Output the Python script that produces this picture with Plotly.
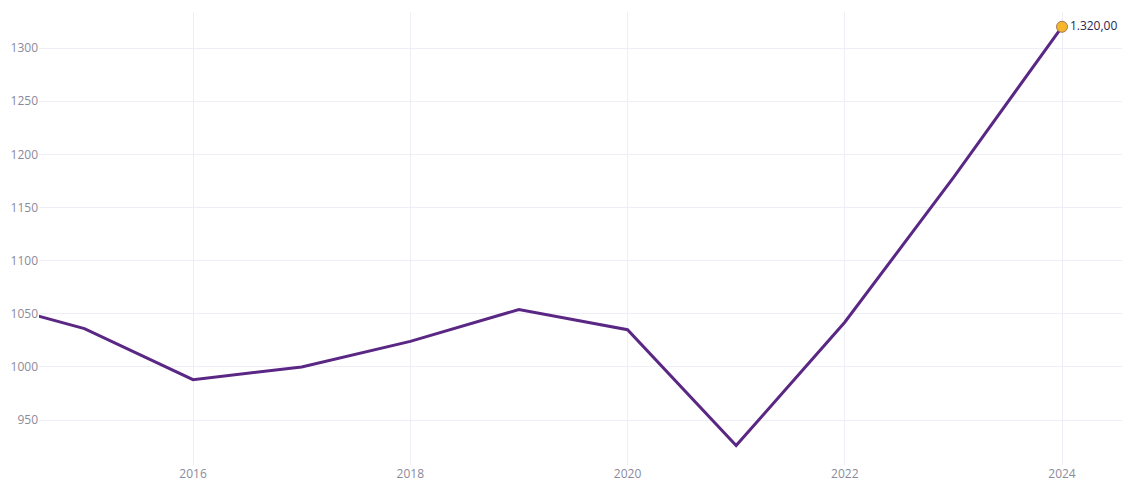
import plotly.graph_objects as go

years = [2014, 2015, 2016, 2017, 2018, 2019, 2020, 2021, 2022, 2023, 2024]
values = [1064, 1036, 988, 1000, 1024, 1054, 1035, 926, 1042, 1178, 1320]
x_ticks = [2016, 2018, 2020, 2022, 2024]
y_ticks = [950, 1000, 1050, 1100, 1150, 1200, 1250, 1300]

line_color = "#5a2784"
grid_color = "#efeef7"
tick_color = "#8b8a9c"

fig = go.Figure()
fig.add_trace(go.Scatter(
    x=years, y=values, mode="lines",
    line=dict(color=line_color, width=3),
    hoverinfo="skip", showlegend=False,
))
fig.add_trace(go.Scatter(
    x=years[-1:], y=values[-1:], mode="markers+text",
    marker=dict(color="#f7b52c", size=11, line=dict(color="#9c7a5a", width=1)),
    texttemplate="%{y:,.2f}", textposition="middle right",
    textfont=dict(family="Open Sans, sans-serif", size=12, color="#2a2750"),
    showlegend=False, cliponaxis=False,
))

fig.update_layout(
    width=1122, height=475,
    margin=dict(l=31, r=0, t=4, b=18),
    paper_bgcolor="white", plot_bgcolor="white",
    separators=",.",
    font=dict(family="Open Sans, sans-serif", size=12, color=tick_color),
    xaxis=dict(
        range=[2014.582, 2024.626], tickvals=x_ticks, ticktext=[str(t) for t in x_ticks],
        showgrid=True, gridcolor=grid_color, gridwidth=1, zeroline=False,
        showline=False, ticks="", tickfont=dict(size=12, color=tick_color),
    ),
    yaxis=dict(
        range=[907.7, 1333.9], tickvals=y_ticks, ticktext=[str(t) for t in y_ticks],
        showgrid=True, gridcolor=grid_color, gridwidth=1, zeroline=False,
        showline=False, ticks="", tickfont=dict(size=12, color=tick_color),
    ),
)

fig.write_html("out.html")
